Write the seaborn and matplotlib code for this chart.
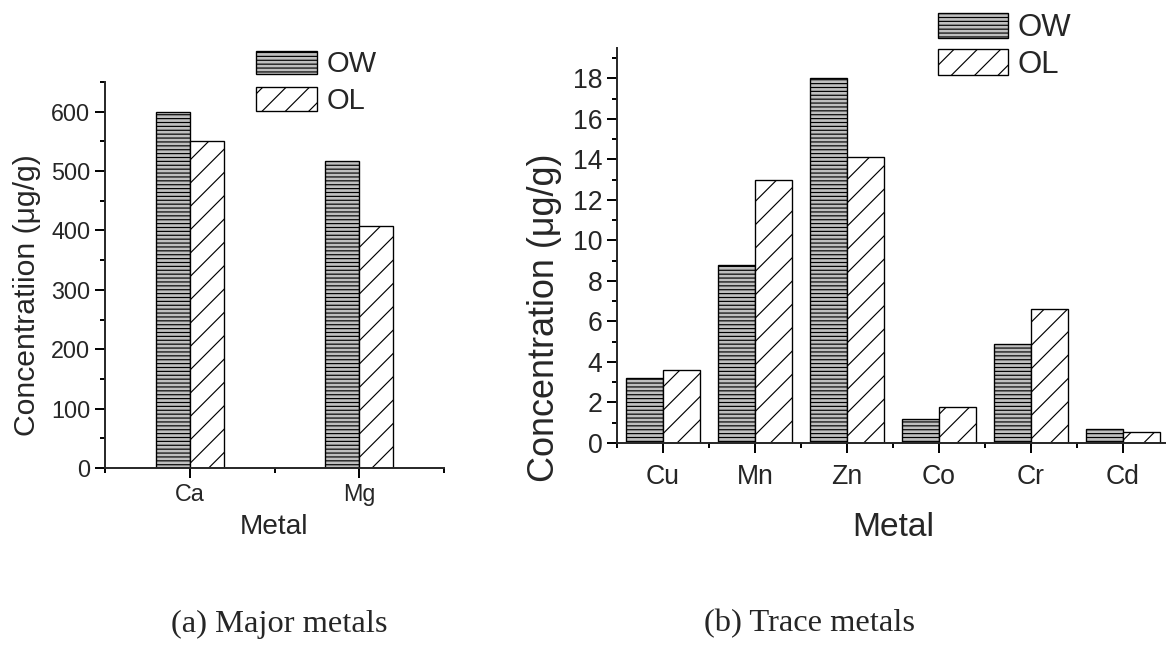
import matplotlib
matplotlib.use("Agg")
import matplotlib.pyplot as plt
from matplotlib.ticker import MultipleLocator, FixedLocator
import pandas as pd
import seaborn as sns

# Major metals
major_metals = ["Ca", "Mg"]
major_ow = [600, 517]
major_ol = [550, 407]

# Trace metals
trace_metals = ["Cu", "Mn", "Zn", "Co", "Cr", "Cd"]
trace_ow = [3.2, 8.8, 18.0, 1.2, 4.9, 0.68]
trace_ol = [3.6, 13.0, 14.1, 1.8, 6.6, 0.55]

samples = ["OW", "OL"]


def long_frame(metals, ow, ol):
    return pd.DataFrame({
        "Metal": metals * 2,
        "Sample": ["OW"] * len(metals) + ["OL"] * len(metals),
        "Concentration": list(ow) + list(ol),
    })


df_major = long_frame(major_metals, major_ow, major_ol)
df_trace = long_frame(trace_metals, trace_ow, trace_ol)

sns.set_style("ticks")
plt.rcParams["font.family"] = ["Liberation Sans", "DejaVu Sans"]
plt.rcParams["hatch.linewidth"] = 0.6
plt.rcParams["hatch.color"] = "black"

DPI = 140
W, H = 1166, 654
fig = plt.figure(figsize=(W / DPI, H / DPI), dpi=DPI)


def px_axes(x0, y0, x1, y1):
    return fig.add_axes([x0 / W, 1 - y1 / H, (x1 - x0) / W, (y1 - y0) / H])


ax1 = px_axes(105, 82, 444, 468)
ax2 = px_axes(617, 48, 1169, 443)

palette = {"OW": "#bfbfbf", "OL": "white"}
hatches = {"OW": "------", "OL": "//"}


def draw(ax, df, metals, width, ylim, major, minor, tick_fs, label_fs, tick_pad,
         label_pad, leg_fs, leg_len, leg_h, leg_space, leg_pad):
    sns.barplot(data=df, x="Metal", y="Concentration", hue="Sample",
                order=metals, hue_order=samples, palette=palette,
                saturation=1, width=width, edgecolor="black", linewidth=0.7,
                legend=False, ax=ax)
    for cont, s in zip(ax.containers, samples):
        for bar in cont:
            bar.set_hatch(hatches[s])
    ax.set_xlim(-0.5, len(metals) - 0.5)
    ax.set_ylim(*ylim)
    ax.yaxis.set_major_locator(MultipleLocator(major))
    ax.yaxis.set_minor_locator(MultipleLocator(minor))
    ax.xaxis.set_minor_locator(FixedLocator([i - 0.5 for i in range(len(metals) + 1)]))
    for side in ("top", "right"):
        ax.spines[side].set_visible(False)
    for side in ("left", "bottom"):
        ax.spines[side].set_linewidth(1.0)
    ax.tick_params(which="major", direction="out", length=5, width=1.0,
                   labelsize=tick_fs, pad=tick_pad, color="black")
    ax.tick_params(axis="y", which="major", pad=2.5)
    ax.tick_params(which="minor", direction="out", length=2.6, width=1.0, color="black")
    ax.set_xlabel("Metal", fontsize=label_fs, labelpad=label_pad)
    legend = ax.legend(handles=[ax.containers[0][0], ax.containers[1][0]], labels=samples,
                       frameon=False, fontsize=leg_fs, borderpad=0, borderaxespad=0,
                       handletextpad=leg_pad, handlelength=leg_len, handleheight=leg_h,
                       labelspacing=leg_space, loc="upper left",
                       bbox_transform=fig.transFigure)
    return legend


leg1 = draw(ax1, df_major, major_metals, 0.4, (0, 650), 100, 50, 12, 14.4, 2.5, 4.5,
            15, 2.09, 0.88, 0.29, 0.34)
ax1.set_ylabel("Concentratiion (μg/g)", fontsize=15.5)
ax1.yaxis.set_label_coords(-0.19, 0.448)
leg1.set_bbox_to_anchor((256 / W, 1 - 50.5 / H), transform=fig.transFigure)

leg2 = draw(ax2, df_trace, trace_metals, 0.8, (0, 19.5), 2, 1, 13.7, 17.3, 6, 11,
            16, 2.25, 0.86, 0.2, 0.3)
ax2.set_ylabel("Concentration (μg/g)", fontsize=18.5)
ax2.yaxis.set_label_coords(-0.099, 0.316)
leg2.set_bbox_to_anchor((938 / W, 1 - 13 / H), transform=fig.transFigure)

# Panel captions
fig.text(279 / W, 1 - 624 / H, "(a) Major metals", family="Liberation Serif",
         fontsize=16.7, ha="center", va="center")
fig.text(809 / W, 1 - 624 / H, "(b) Trace metals", family="Liberation Serif",
         fontsize=16.7, ha="center", va="center")

fig.savefig("out.png", dpi=DPI)
